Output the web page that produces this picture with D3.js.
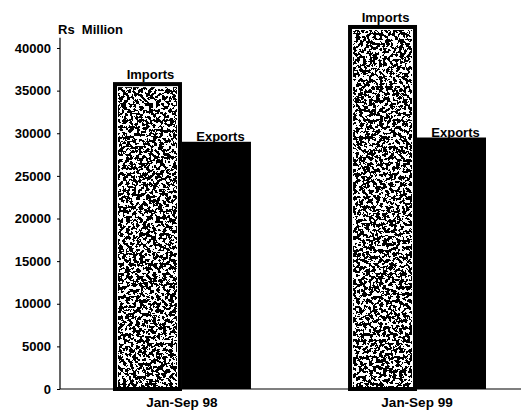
<!DOCTYPE html>
<html><head><meta charset="utf-8">
<script src="https://cdn.jsdelivr.net/npm/d3@7"></script>
<style>
html,body{margin:0;padding:0;background:#fff;}
svg{display:block;font-family:"Liberation Sans",Arial,sans-serif;}
</style></head>
<body>
<svg id="chart" width="523" height="410"></svg>
<script>
const periods = ["Jan-Sep 98", "Jan-Sep 99"];
const seriesNames = ["Imports", "Exports"];
const importsValues = [36000, 42700];
const exportsValues = [29000, 29500];
const yTickValues = [0, 5000, 10000, 15000, 20000, 25000, 30000, 35000, 40000];
const yUnit = "Rs  Million";

const svg = d3.select("#chart");
const x0 = 60, yBase = 389;

const y = d3.scaleLinear().domain([0, 40000]).range([yBase, 48]);
const x = d3.scaleBand().domain(periods).range([60, 539]).paddingInner(0.413).paddingOuter(0.2255);
const xs = d3.scaleBand().domain(seriesNames).range([0, x.bandwidth()]).padding(0);

const defs = svg.append("defs");
const f = defs.append("filter").attr("id", "speckle")
  .attr("x", 0).attr("y", 0).attr("width", 1).attr("height", 1);
f.append("feTurbulence").attr("type", "fractalNoise").attr("baseFrequency", 0.3)
  .attr("numOctaves", 4).attr("seed", 7).attr("result", "n");
f.append("feColorMatrix").attr("in", "n").attr("type", "matrix")
  .attr("values", "0 0 0 0 0  0 0 0 0 0  0 0 0 0 0  1 0 0 0 0").attr("result", "a");
const ct = f.append("feComponentTransfer").attr("in", "a").attr("result", "t");
ct.append("feFuncA").attr("type", "discrete").attr("tableValues", "0 0 0 0 0 1 1 1 1 1");
f.append("feComposite").attr("in", "t").attr("in2", "SourceGraphic").attr("operator", "in");

const rows = periods.map((p, i) => ({ period: p, values: [importsValues[i], exportsValues[i]] }));

const g = svg.append("g");
rows.forEach(r => {
  const gx = x(r.period);
  const ev = r.values[1];
  g.append("rect").attr("class", "bar exports")
    .attr("x", gx + xs("Exports")).attr("y", y(ev))
    .attr("width", xs.bandwidth()).attr("height", y(0) - y(ev)).attr("fill", "#000");
  const iv = r.values[0];
  const ix = gx + xs("Imports") + 2, iy = y(iv) + 2, iw = xs.bandwidth() - 4, ih = y(0) - y(iv) - 2;
  g.append("rect").attr("x", ix).attr("y", iy).attr("width", iw).attr("height", ih).attr("fill", "#fff");
  g.append("rect").attr("x", ix + 3).attr("y", iy + 3).attr("width", iw - 6).attr("height", ih - 5)
    .attr("fill", "#000").attr("filter", "url(#speckle)");
  g.append("rect").attr("class", "bar imports")
    .attr("x", ix).attr("y", iy).attr("width", iw).attr("height", ih)
    .attr("fill", "none").attr("stroke", "#000").attr("stroke-width", 4);
  g.append("text").attr("x", gx + xs("Imports") + xs.bandwidth() / 2 + 3).attr("y", y(iv) - 3)
    .attr("text-anchor", "middle").attr("font-size", 13).attr("font-weight", "bold").text("Imports");
  g.append("text").attr("x", gx + xs("Exports") + xs.bandwidth() / 2 + 4).attr("y", y(ev) - 1)
    .attr("text-anchor", "middle").attr("font-size", 13).attr("font-weight", "bold").text("Exports");
});

const yAxis = d3.axisLeft(y).tickValues(yTickValues).tickSize(3).tickSizeOuter(0).tickFormat(d3.format("d"));
const ya = svg.append("g").attr("transform", `translate(${x0},0)`).call(yAxis);
ya.select(".domain").remove();
ya.selectAll("text").attr("font-size", 13).attr("font-weight", "bold").attr("fill", "#000")
  .attr("font-family", "Liberation Sans, Arial, sans-serif").attr("x", -9);
ya.selectAll("line").attr("stroke", "#000");
svg.append("line").attr("x1", x0).attr("x2", x0).attr("y1", y(41200)).attr("y2", yBase)
  .attr("stroke", "#000").attr("stroke-width", 1.2);

svg.append("line").attr("x1", x0).attr("x2", 521).attr("y1", yBase).attr("y2", yBase)
  .attr("stroke", "#000").attr("stroke-width", 1.2);

svg.selectAll(".xlab").data(periods).enter().append("text").attr("class", "xlab")
  .attr("x", d => x(d) + x.bandwidth() / 2).attr("y", 407)
  .attr("text-anchor", "middle").attr("font-size", 13.5).attr("font-weight", "bold").text(d => d);

svg.append("text").attr("x", 58).attr("y", 34).attr("font-size", 13).attr("font-weight", "bold")
  .attr("xml:space", "preserve").style("white-space", "pre").text(yUnit);
</script>
</body></html>
